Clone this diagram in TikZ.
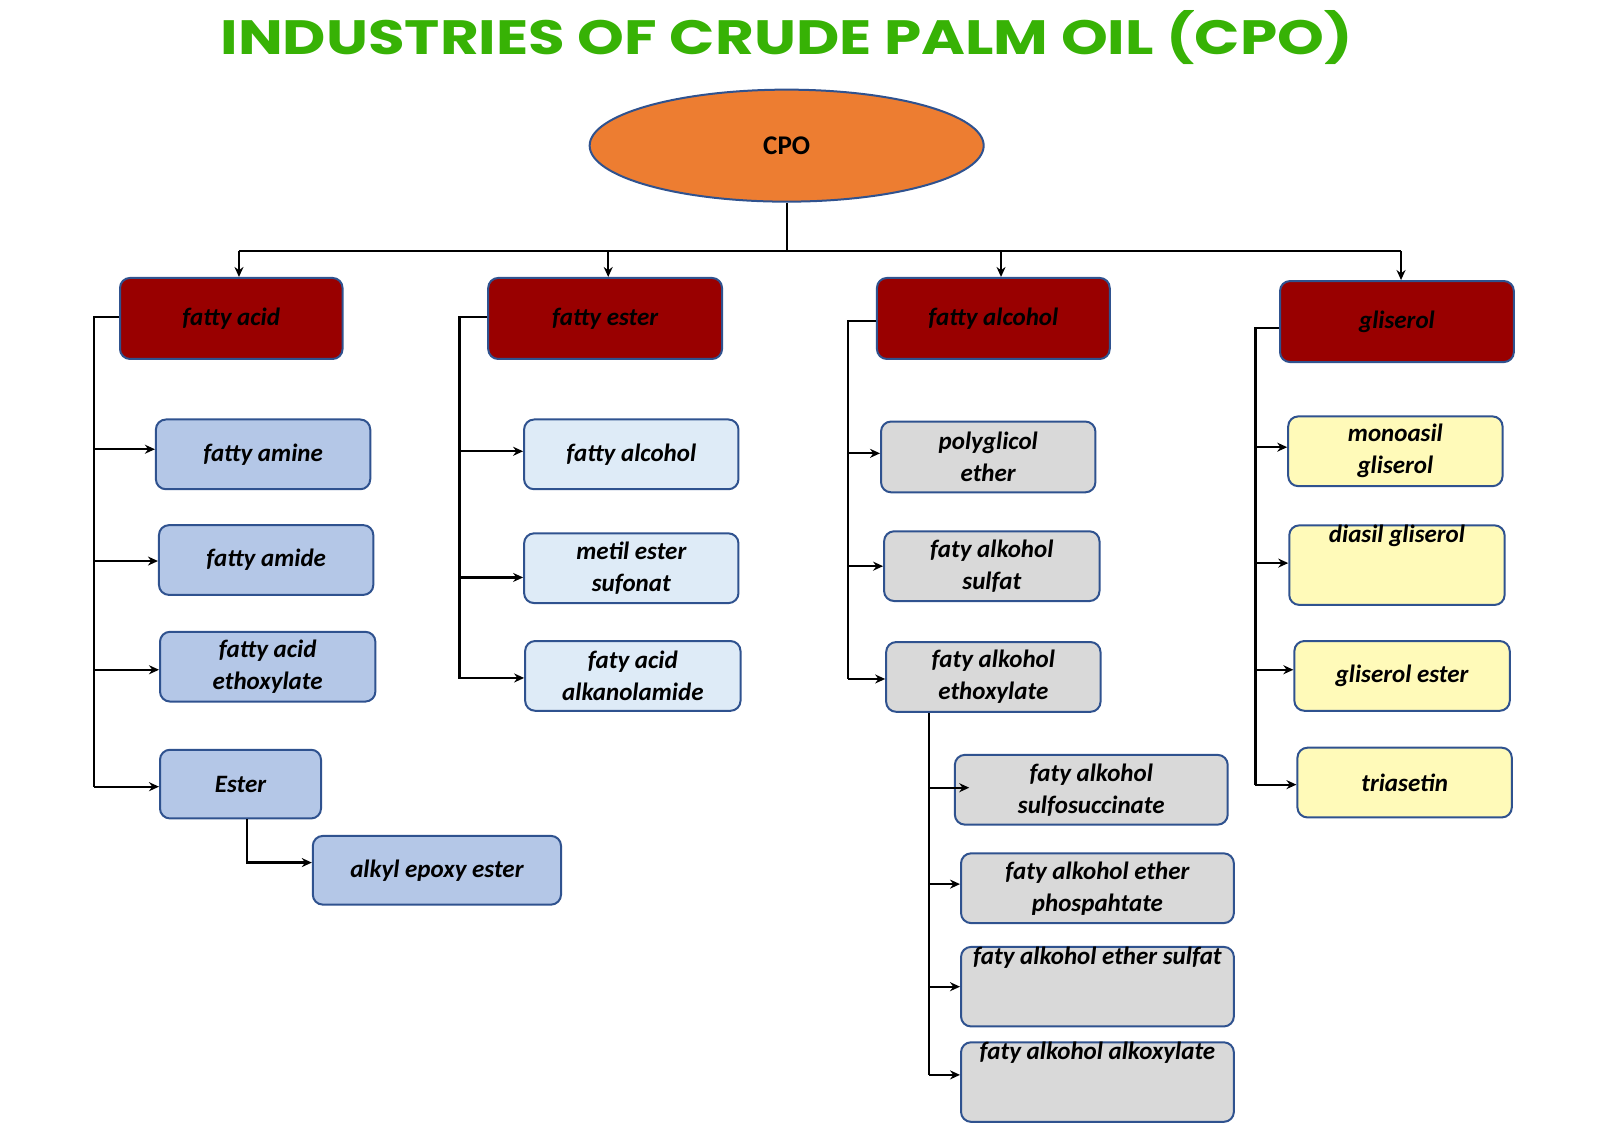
\documentclass[tikz,border=0pt]{standalone}
\usepackage{fontspec}
\setmainfont{Carlito}
\newfontfamily\titlefont{Poppins}
\usetikzlibrary{arrows.meta,shapes.geometric}
\definecolor{bord}{RGB}{47,82,143}
\definecolor{dred}{RGB}{153,0,0}
\definecolor{cblue}{RGB}{180,199,231}
\definecolor{clight}{RGB}{222,235,247}
\definecolor{cgray}{RGB}{217,217,217}
\definecolor{cyel}{RGB}{255,250,185}
\definecolor{corange}{RGB}{237,125,49}
\definecolor{tgreen}{RGB}{55,178,5}
\newcommand\bx[7]{%
 \pgfmathsetlengthmacro\bw{(#5-#3)*0.5128pt}%
 \pgfmathsetlengthmacro\bh{(#6-#4)*0.5128pt}%
 \node[#1,minimum width=\bw,minimum height=\bh] (#2) at ({(#3+#5)/2},{(#4+#6)/2}) {#7};}
\begin{document}
\begin{tikzpicture}[x=0.5128pt,y=-0.5128pt,
 box/.style={draw=bord,line width=1pt,rounded corners=5pt,inner sep=0pt,align=center,
   font=\fontsize{12.5}{16}\selectfont\bfseries\itshape},
 head/.style={box,fill=dred},
 ln/.style={line width=1.1pt},
 arr/.style={ln,-{Stealth[length=5pt,width=4.5pt]}}]
\useasboundingbox (0,0) rectangle (1560,1103);
\node[text=tgreen] (title) at (767,37) {\resizebox{566pt}{22pt}{\titlefont\bfseries INDUSTRIES OF CRUDE PALM OIL (CPO)}};
\node[ellipse,draw=bord,line width=1pt,fill=corange,minimum width=197pt,minimum height=56pt,
  font=\fontsize{13.5}{15}\selectfont\bfseries] (cpo) at (767,142) {CPO};
% heads
\bx{head}{h1}{117}{271}{334}{350}{fatty acid}
\bx{head}{h2}{476}{271}{704}{350}{fatty ester}
\bx{head}{h3}{855}{271}{1082}{350}{fatty alcohol}
\bx{head}{h4}{1248}{274}{1476}{353}{gliserol}
% col1
\bx{box,fill=cblue}{a1}{152}{409}{361}{477}{fatty amine}
\bx{box,fill=cblue}{a2}{155}{512}{364}{580}{fatty amide}
\bx{box,fill=cblue}{a3}{156}{616}{366}{684}{fatty acid\\ethoxylate}
\bx{box,fill=cblue}{a4}{156}{731}{313}{798}{Ester}
\bx{box,fill=cblue}{a5}{305}{815}{547}{882}{alkyl epoxy ester}
% col2
\bx{box,fill=clight}{b1}{511}{409}{720}{477}{fatty alcohol}
\bx{box,fill=clight}{b2}{511}{520}{720}{588}{metil ester\\sufonat}
\bx{box,fill=clight}{b3}{512}{625}{722}{693}{faty acid\\alkanolamide}
% col3
\bx{box,fill=cgray}{c1}{859}{411}{1068}{480}{polyglicol\\ether}
\bx{box,fill=cgray}{c2}{862}{518}{1072}{586}{faty alkohol\\sulfat}
\bx{box,fill=cgray}{c3}{864}{626}{1073}{694}{faty alkohol\\ethoxylate}
\bx{box,fill=cgray}{d1}{931}{736}{1197}{804}{faty alkohol\\sulfosuccinate}
\bx{box,fill=cgray}{d2}{937}{832}{1203}{900}{faty alkohol ether\\phospahtate}
\bx{box,fill=cgray}{d3}{937}{928}{1203}{996}{faty alkohol ether sulfat\\[1.2em]}
\bx{box,fill=cgray}{d4}{937}{1021}{1203}{1089}{faty alkohol alkoxylate\\[1.2em]}
% col4
\bx{box,fill=cyel}{e1}{1256}{406}{1465}{474}{monoasil\\gliserol}
\bx{box,fill=cyel}{e2}{1257}{517}{1467}{585}{diasil gliserol\\[1.2em]}
\bx{box,fill=cyel}{e3}{1262}{625}{1472}{693}{gliserol ester}
\bx{box,fill=cyel}{e4}{1265}{729}{1474}{797}{triasetin}
% top bus
\coordinate (bus) at (767,245);
\draw[ln] (cpo.south) -- (bus);
\draw[ln] (233,245) -- (1366,245);
\draw[arr] (233,245) -- (h1.north -| 233,0);
\draw[arr] (593,245) -- (h2.north -| 593,0);
\draw[arr] (976,245) -- (h3.north -| 976,0);
\draw[arr] (1366,245) -- (h4.north -| 1366,0);
% col1 trunk
\coordinate (t1) at (92,309);
\draw[ln] (h1.west |- t1) -- (t1) -- (92,767);
\foreach \n/\y in {a1/438,a2/547,a3/653,a4/767} \draw[arr] (92,\y) -- (\n.west |- 0,\y);
\draw[arr] (a4.south -| 241,0) -- (241,841) -- (a5.west |- 0,841);
% col2
\coordinate (t2) at (448,309);
\draw[ln] (h2.west |- t2) -- (t2) -- (448,662);
\foreach \n/\y in {b1/440,b2/563,b3/661} \draw[arr] (448,\y) -- (\n.west |- 0,\y);
% col3
\coordinate (t3) at (827,313);
\draw[ln] (h3.west |- t3) -- (t3) -- (827,662);
\foreach \n/\y in {c1/442,c2/552,c3/662} \draw[arr] (827,\y) -- (\n.west |- 0,\y);
\coordinate (t3b) at (906,694);
\draw[ln] (c3.south -| t3b) -- (906,1048);
\draw[arr] (906,768) -- (945,768);
\foreach \n/\y in {d2/862,d3/962,d4/1048} \draw[arr] (906,\y) -- (\n.west |- 0,\y);
% col4
\coordinate (t4) at (1224,320);
\draw[ln] (h4.west |- t4) -- (t4) -- (1224,765);
\foreach \n/\y in {e1/436,e2/549,e3/653,e4/765} \draw[arr] (1224,\y) -- (\n.west |- 0,\y);
\end{tikzpicture}
\end{document}
